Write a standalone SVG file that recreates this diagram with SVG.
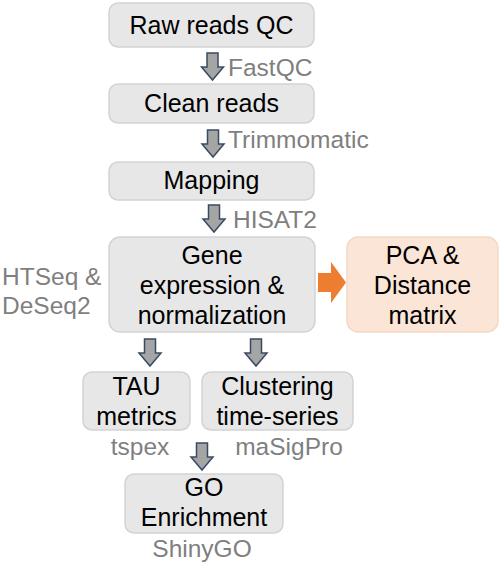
<svg xmlns="http://www.w3.org/2000/svg" width="500" height="569" viewBox="0 0 500 569">
<style>
.box{fill:#e7e7e7;stroke:#d3d3d3;stroke-width:1.5}
.pca{fill:#fbe5d6;stroke:#f3d9c6;stroke-width:1.5}
.t{font-family:"Liberation Sans",Arial,sans-serif;font-size:25px;fill:#000;text-anchor:middle}
.l{font-family:"Liberation Sans",Arial,sans-serif;font-size:24.5px;fill:#7f7f7f}
.arr{fill:#a5a5a5;stroke:#3b4a63;stroke-width:1.5;stroke-linejoin:miter}
</style>
<defs>
<path id="da" d="M-5.5,0 H5.5 V14 H11 L0,27 L-11,14 H-5.5 Z"/>
</defs>
<rect width="500" height="569" fill="#fff"/>
<g id="connectors">
<use href="#da" class="arr" transform="translate(212.5,53)"/>
<use href="#da" class="arr" transform="translate(213,130)"/>
<use href="#da" class="arr" transform="translate(214,205)"/>
<use href="#da" class="arr" transform="translate(150,339)"/>
<use href="#da" class="arr" transform="translate(256,339)"/>
<use href="#da" class="arr" transform="translate(202,443)"/>
<path d="M318,273 H331 V262 L346,282.5 L331,303 V292 H318 Z" fill="#ed7d31"/>
</g>
<g id="n1"><rect class="box" x="109" y="3" width="205" height="44" rx="9"/><text class="t" x="211.5" y="34">Raw reads QC</text></g>
<g id="l1"><text class="l" x="228" y="76">FastQC</text></g>
<g id="n2"><rect class="box" x="109" y="84" width="205" height="39" rx="9"/><text class="t" x="211.5" y="112">Clean reads</text></g>
<g id="l2"><text class="l" x="228" y="148">Trimmomatic</text></g>
<g id="n3"><rect class="box" x="109" y="162" width="205" height="38" rx="9"/><text class="t" x="211.5" y="189">Mapping</text></g>
<g id="l3"><text class="l" x="233" y="228">HISAT2</text></g>
<g id="n4"><rect class="box" x="109" y="237" width="206" height="95" rx="11"/>
<text class="t" x="212" y="264">Gene</text><text class="t" x="212" y="294">expression &amp;</text><text class="t" x="212" y="324">normalization</text></g>
<g id="l4"><text class="l" x="2" y="285">HTSeq &amp;</text><text class="l" x="2" y="314">DeSeq2</text></g>
<g id="n5"><rect class="pca" x="347" y="237" width="151" height="95" rx="11"/>
<text class="t" x="422.5" y="264">PCA &amp;</text><text class="t" x="422.5" y="294">Distance</text><text class="t" x="422.5" y="324">matrix</text></g>
<g id="n6"><rect class="box" x="83" y="372" width="107" height="58" rx="9"/>
<text class="t" x="136.5" y="395">TAU</text><text class="t" x="136.5" y="425">metrics</text></g>
<g id="l6"><text class="l" x="140" y="455" text-anchor="middle">tspex</text></g>
<g id="n7"><rect class="box" x="202" y="372" width="151" height="58" rx="9"/>
<text class="t" x="277.5" y="395">Clustering</text><text class="t" x="277.5" y="425">time-series</text></g>
<g id="l7"><text class="l" x="289" y="455" text-anchor="middle">maSigPro</text></g>
<g id="n8"><rect class="box" x="125" y="474" width="158" height="59" rx="9"/>
<text class="t" x="204" y="496">GO</text><text class="t" x="204" y="526">Enrichment</text></g>
<g id="l8"><text class="l" x="202" y="557" text-anchor="middle">ShinyGO</text></g>
</svg>
